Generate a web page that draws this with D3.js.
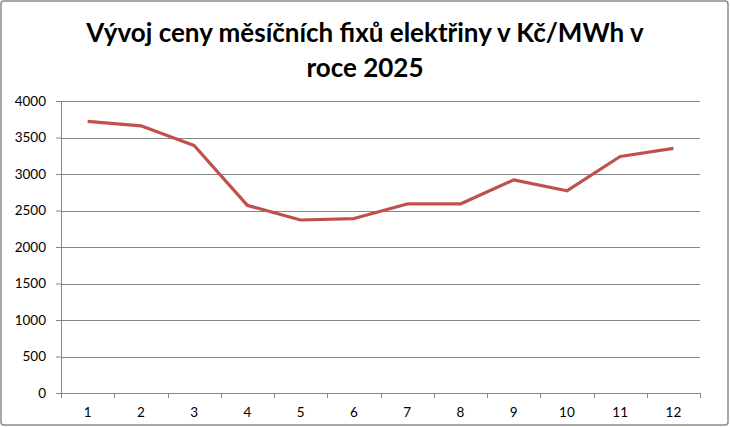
<!DOCTYPE html>
<html>
<head>
<meta charset="utf-8">
<script src="https://cdn.jsdelivr.net/npm/d3@7"></script>
<style>
  body { margin: 0; background: #fff; }
  svg { display: block; font-family: Lato, "Open Sans", sans-serif; }
</style>
</head>
<body>
<div id="chart"></div>
<script>
// data
var months = [1, 2, 3, 4, 5, 6, 7, 8, 9, 10, 11, 12];
var prices = [3720, 3660, 3390, 2570, 2370, 2390, 2590, 2590, 2920, 2770, 3240, 3350];
var yTicks = [0, 500, 1000, 1500, 2000, 2500, 3000, 3500, 4000];
var titleLines = ['Vývoj ceny měsíčních fixů elektřiny v Kč/MWh v', 'roce 2025'];

var width = 730, height = 427;
var margin = { top: 101, right: 30, bottom: 34, left: 61 };
var innerW = width - margin.left - margin.right;
var innerH = height - margin.top - margin.bottom;

var svg = d3.select('#chart')
    .append('svg')
    .attr('width', width)
    .attr('height', height);

// outer frame
svg.append('rect')
    .attr('x', 1)
    .attr('y', 1)
    .attr('width', width - 3)
    .attr('height', height - 3)
    .attr('rx', 3)
    .attr('fill', '#fff')
    .attr('stroke', '#8c8c8c')
    .attr('stroke-width', 1.5);

// title
svg.append('g')
    .selectAll('text')
    .data(titleLines)
    .join('text')
    .attr('x', 365)
    .attr('y', (d, i) => 42 + i * 35)
    .attr('text-anchor', 'middle')
    .style('font-size', '26px')
    .style('font-weight', 'bold')
    .attr('fill', '#000')
    .text(d => d);

var g = svg.append('g')
    .attr('transform', 'translate(' + margin.left + ',' + margin.top + ')');

var x = d3.scaleBand()
    .domain(months)
    .range([0, innerW]);

var y = d3.scaleLinear()
    .domain([0, 4000])
    .range([innerH, 0]);

// gridlines
g.append('g')
    .selectAll('line')
    .data(yTicks.slice(1))
    .join('line')
    .attr('x1', 0)
    .attr('x2', innerW)
    .attr('y1', d => Math.round(y(d)) + 0.5)
    .attr('y2', d => Math.round(y(d)) + 0.5)
    .attr('stroke', '#868686')
    .attr('stroke-width', 1);

// y axis
var yAxis = d3.axisLeft(y)
    .tickValues(yTicks)
    .tickFormat(d3.format('d'))
    .tickSize(5)
    .tickPadding(10);

g.append('g')
    .attr('class', 'axis')
    .call(yAxis);

// x axis with ticks between categories
var xAxis = d3.axisBottom(x)
    .tickSize(0)
    .tickPadding(14);

var xg = g.append('g')
    .attr('class', 'axis')
    .attr('transform', 'translate(0,' + innerH + ')')
    .call(xAxis);

xg.selectAll('.boundary')
    .data(d3.range(months.length + 1))
    .join('line')
    .attr('class', 'boundary')
    .attr('x1', i => Math.round(i * x.step()) + 0.5)
    .attr('x2', i => Math.round(i * x.step()) + 0.5)
    .attr('y1', 0)
    .attr('y2', 5)
    .attr('stroke', '#868686');

svg.selectAll('.axis .domain')
    .attr('stroke', '#868686');
svg.selectAll('.axis .tick line')
    .attr('stroke', '#868686');
svg.selectAll('.axis .tick text')
    .style('font-family', 'Lato, "Open Sans", sans-serif')
    .style('font-size', '13.5px')
    .attr('fill', '#000');

// price line
var line = d3.line()
    .x((d, i) => x(months[i]) + x.bandwidth() / 2)
    .y(d => y(d));

g.append('path')
    .datum(prices)
    .attr('fill', 'none')
    .attr('stroke', '#C0504D')
    .attr('stroke-width', 3.2)
    .attr('stroke-linejoin', 'round')
    .attr('d', line);
</script>
</body>
</html>
